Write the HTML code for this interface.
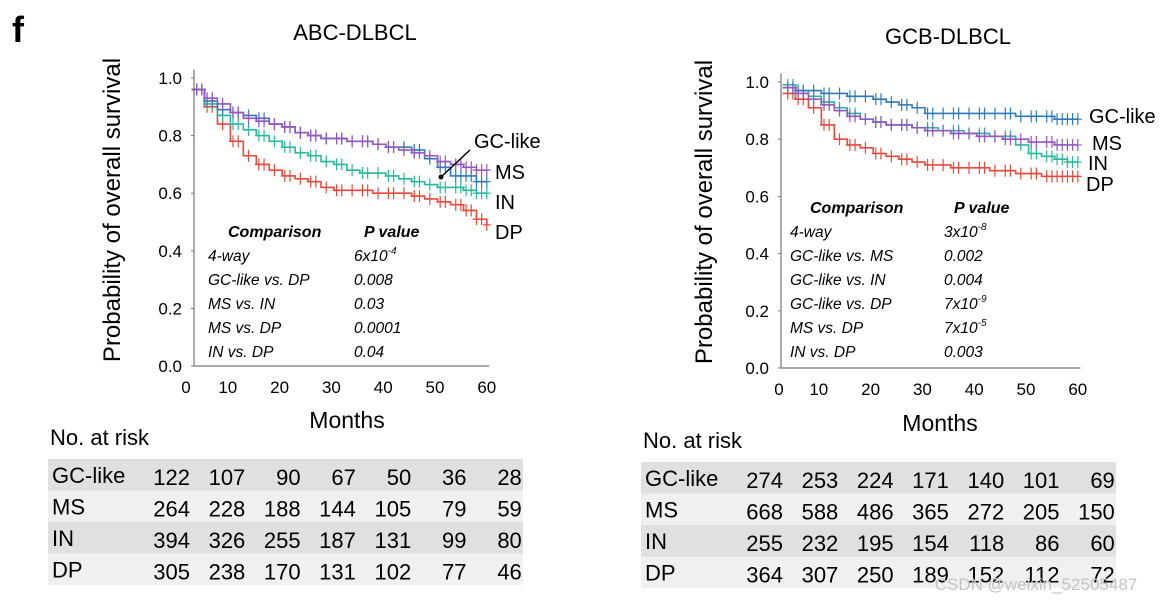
<!DOCTYPE html>
<html><head><meta charset="utf-8"><style>
body{margin:0;background:#fff;font-family:"Liberation Sans",Arial,sans-serif;}
svg{display:block}
</style></head><body>
<svg id="root" width="1166" height="603" viewBox="0 0 1166 603" font-family="Liberation Sans, Arial, sans-serif">
<text x="12" y="42" font-size="36" font-weight="bold">f</text>
<text x="355" y="40" font-size="22" text-anchor="middle">ABC-DLBCL</text>
<text x="948" y="44" font-size="22" text-anchor="middle">GCB-DLBCL</text>
<g id="chartA"></g>
<g id="chartB"></g>
<text x="1036" y="590" font-size="17" fill="#c4c4c4" text-anchor="middle">CSDN @weixin_52505487</text>
</svg>
<script>
const xTicks=[0,10,20,30,40,50,60];
const yTicks=[0,0.2,0.4,0.6,0.8,1.0];
const groups=["GC-like","MS","IN","DP"];
const colors={"GC-like":"#2f7bb8","MS":"#9457c0","IN":"#27b99b","DP":"#e9493b"};
const times=[3,5.5,8,10.5,13,15.5,18,20.5,23,25.5,28,30.5,33,35.5,38,40.5,43,45.5,48,50.5,53,55.5,58,60];
const abcS={"GC-like":[0.96,0.92,0.89,0.88,0.87,0.86,0.84,0.83,0.81,0.80,0.79,0.79,0.78,0.78,0.77,0.76,0.76,0.75,0.72,0.69,0.66,0.66,0.64,0.64],
"MS":[0.96,0.93,0.91,0.88,0.86,0.85,0.84,0.83,0.81,0.80,0.79,0.79,0.78,0.78,0.77,0.76,0.75,0.74,0.73,0.71,0.70,0.69,0.68,0.68],
"IN":[0.96,0.91,0.87,0.84,0.82,0.80,0.78,0.76,0.74,0.73,0.71,0.70,0.68,0.67,0.67,0.66,0.65,0.64,0.63,0.62,0.62,0.61,0.60,0.60],
"DP":[0.96,0.90,0.84,0.78,0.73,0.70,0.68,0.66,0.65,0.64,0.62,0.61,0.61,0.61,0.60,0.60,0.60,0.59,0.58,0.57,0.56,0.54,0.51,0.49]};
const gcbS={"GC-like":[0.98,0.97,0.97,0.96,0.96,0.95,0.95,0.94,0.93,0.92,0.91,0.89,0.89,0.89,0.89,0.89,0.89,0.89,0.88,0.88,0.88,0.87,0.87,0.87],
"MS":[0.98,0.96,0.94,0.92,0.90,0.88,0.87,0.86,0.85,0.85,0.84,0.83,0.83,0.82,0.82,0.81,0.81,0.80,0.80,0.79,0.79,0.78,0.78,0.78],
"IN":[0.99,0.97,0.95,0.93,0.91,0.89,0.87,0.86,0.85,0.85,0.84,0.84,0.83,0.83,0.82,0.82,0.81,0.81,0.78,0.75,0.74,0.73,0.72,0.72],
"DP":[0.96,0.94,0.91,0.85,0.80,0.78,0.77,0.75,0.74,0.73,0.72,0.71,0.71,0.70,0.70,0.70,0.69,0.69,0.68,0.68,0.67,0.67,0.67,0.67]};
const censorTimes=[4,5,6,7,9,11,12,14,16,17,19,21,22,24,26,27,29,31,32,34,36,37,39,41,42,44,46,47,49,51,52,54,55,56,57,58,59,60];
const abcCmp=["4-way","GC-like vs. DP","MS vs. IN","MS vs. DP","IN vs. DP"];
const abcP=["6x10<sup>-4</sup>","0.008","0.03","0.0001","0.04"];
const gcbCmp=["4-way","GC-like vs. MS","GC-like vs. IN","GC-like vs. DP","MS vs. DP","IN vs. DP"];
const gcbP=["3x10<sup>-8</sup>","0.002","0.004","7x10<sup>-9</sup>","7x10<sup>-5</sup>","0.003"];
const abcRisk={"GC-like":[122,107,90,67,50,36,28],"MS":[264,228,188,144,105,79,59],"IN":[394,326,255,187,131,99,80],"DP":[305,238,170,131,102,77,46]};
const gcbRisk={"GC-like":[274,253,224,171,140,101,69],"MS":[668,588,486,365,272,205,150],"IN":[255,232,195,154,118,86,60],"DP":[364,307,250,189,152,112,72]};

const NS="http://www.w3.org/2000/svg";
function mk(parent,tag,attrs,txt){const e=document.createElementNS(NS,tag);for(const k in attrs)e.setAttribute(k,attrs[k]);if(txt!==undefined)e.innerHTML=txt;parent.appendChild(e);return e;}
function stepVal(T,S,t){let v=S[0];for(let i=0;i<T.length;i++){if(T[i]<=t)v=S[i];}return v;}

function drawChart(g,cfg){
  const x=t=>cfg.x0+cfg.kx*t, y=v=>cfg.y0-cfg.ky*v;
  const ax=mk(g,'line',{x1:cfg.axX,y1:y(1.03),x2:cfg.axX,y2:y(0),stroke:'#777','stroke-width':1.2});
  
  const bx=mk(g,'line',{x1:cfg.axX,y1:y(0),x2:x(60.5),y2:y(0),stroke:'#777','stroke-width':1.2});
  
  yTicks.forEach(v=>{const t=mk(g,'text',{x:cfg.axX-12,y:y(v)+6,'font-size':17,'text-anchor':'end'},v.toFixed(1));
    
    mk(g,'line',{x1:cfg.axX-3,x2:cfg.axX,y1:y(v),y2:y(v),stroke:'#777'});});
  xTicks.forEach(v=>{const px=v===0?cfg.zeroX:x(v);const t=mk(g,'text',{x:px,y:y(0)+27,'font-size':17,'text-anchor':'middle'},v);
    });
  const yt=mk(g,'text',{x:0,y:0,'font-size':24,'text-anchor':'middle',transform:`translate(${cfg.ytX},${cfg.ytY}) rotate(-90)`},'Probability of overall survival');
  
  const xt=mk(g,'text',{x:cfg.xtX,y:cfg.xtY,'font-size':23,'text-anchor':'middle'},'Months');
  
  const order=["DP","IN","GC-like","MS"];
  order.forEach(gname=>{
    const T=times,S=cfg.S[gname];let d=`M${x(T[0])},${y(S[0])}`;
    for(let i=1;i<T.length;i++){d+=` H${x(T[i])} V${y(S[i])}`;}
    const p=mk(g,'path',{d:d,fill:'none',stroke:colors[gname],'stroke-width':1.6});
    
    let cd='';censorTimes.forEach(ct=>{const cx=x(ct),cy=y(stepVal(T,S,ct));cd+=`M${cx-4},${cy}H${cx+4}M${cx},${cy-6}V${cy+6}`;});
    const c=mk(g,'path',{d:cd,stroke:colors[gname],'stroke-width':1.2,fill:'none'});
    
  });
  groups.forEach((gname,i)=>{const l=cfg.labels[i];const t=mk(g,'text',{x:l[0],y:l[1],'font-size':20},gname);
    });
  const h1=mk(g,'text',{x:cfg.cmpX+20,y:cfg.cmpY,'font-size':16,'font-weight':'bold','font-style':'italic'},'Comparison');
  
  const h2=mk(g,'text',{x:cfg.pX+10,y:cfg.cmpY,'font-size':16,'font-weight':'bold','font-style':'italic'},'P value');
  
  cfg.cmp.forEach((c,i)=>{const yy=cfg.cmpY+24*(i+1);
    const a=mk(g,'text',{x:cfg.cmpX,y:yy,'font-size':15.5,'font-style':'italic'},c);
    
    const b=mk(g,'text',{x:cfg.pX,y:yy,'font-size':15.5,'font-style':'italic'},cfg.p[i].replace(/<sup>(.*)<\/sup>/,'<tspan font-size="10" dy="-7">$1</tspan>'));
    });
  const nr=mk(g,'text',{x:cfg.rX+2,y:cfg.rY-14,'font-size':22},'No. at risk');
  
  groups.forEach((gname,i)=>{const ry=cfg.rY+i*31.5;
    const r=mk(g,'rect',{x:cfg.rX,y:ry,width:475,height:31.5,fill:i%2?'#f0f0f0':'#e0e0e0'});
    
    const lb=mk(g,'text',{x:cfg.rX+4,y:ry+24,'font-size':22},gname);
    
    cfg.risk[gname].forEach((n,j)=>{const t=mk(g,'text',{x:cfg.rX+142+j*55.3,y:ry+26,'font-size':22,'text-anchor':'end'},n);
      });
  });
}
drawChart(document.getElementById('chartA'),{x0:176,kx:5.18,y0:366,ky:288,axX:194,zeroX:186,S:abcS,
  ytX:120,ytY:210,xtX:347,xtY:428,labels:[[474,148],[495,179],[495,209],[495,239]],
  cmpX:208,pX:354,cmpY:237,cmp:abcCmp,p:abcP,rX:48,rY:459,risk:abcRisk});
drawChart(document.getElementById('chartB'),{x0:767,kx:5.18,y0:368,ky:286,axX:781,zeroX:779,S:gcbS,
  ytX:712,ytY:212,xtX:940,xtY:431,labels:[[1089,123],[1092,150],[1088,170],[1086,191]],
  cmpX:790,pX:944,cmpY:213,cmp:gcbCmp,p:gcbP,rX:641,rY:462,risk:gcbRisk});
const ptr=document.createElementNS(NS,'line');
ptr.setAttribute('x1',470);ptr.setAttribute('y1',150);ptr.setAttribute('x2',441);ptr.setAttribute('y2',177);ptr.setAttribute('stroke','#000');ptr.setAttribute('stroke-width',1.5);


document.getElementById('chartA').appendChild(ptr);
const dot=document.createElementNS(NS,'circle');
dot.setAttribute('cx',441);dot.setAttribute('cy',177);dot.setAttribute('r',2.5);


document.getElementById('chartA').appendChild(dot);
</script>
</body></html>
